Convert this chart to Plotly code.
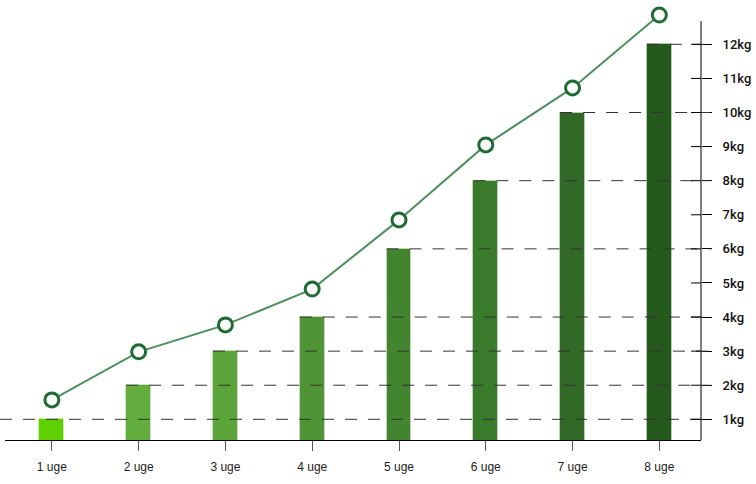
import plotly.graph_objects as go

categories = ["1 uge", "2 uge", "3 uge", "4 uge", "5 uge", "6 uge", "7 uge", "8 uge"]
bar_values = [1, 2, 3, 4, 6, 8, 10, 12]
line_values = [1.57, 2.98, 3.77, 4.82, 6.85, 9.05, 10.72, 12.86]
bar_colors = ["#5fd000", "#62ad3e", "#5aa43a", "#4f9535", "#43852e", "#3a7a2b", "#306a26", "#245a1b"]
tick_vals = list(range(1, 13))
tick_text = [f"{v}kg" for v in tick_vals]

W, H = 756, 484
ML, MR, MT, MB = 5, 53, 10, 44
XMIN, XMAX = -0.54, 7.48
YMIN, YMAX = 0.393, 13.007
AXIS_TOP = 12.68
BW = 0.287

fig = go.Figure()
fig.add_trace(go.Bar(
    x=categories, y=bar_values, width=BW,
    marker=dict(color=bar_colors, line=dict(color="rgba(255,255,255,0.35)", width=1)),
    hoverinfo="skip",
))
fig.add_trace(go.Scatter(
    x=categories, y=line_values, mode="lines+markers",
    line=dict(color="#4f8f5f", width=2),
    marker=dict(size=14, color="white", line=dict(color="#1e6b34", width=3)),
    cliponaxis=False,
))

pw = W - ML - MR
shapes = []
# right axis line
shapes.append(dict(type="line", xref="paper", yref="y", x0=1, x1=1, y0=YMIN, y1=AXIS_TOP,
                   line=dict(color="black", width=1)))
# dashed guide lines from each bar's left edge to the right axis tick end
for i, v in enumerate(bar_values):
    if i == 0:
        x0 = -ML / pw
    else:
        x0 = (i - BW / 2 - XMIN) / (XMAX - XMIN)
    shapes.append(dict(type="line", xref="paper", yref="y", x0=x0, x1=1 + 10 / pw, y0=v, y1=v,
                       line=dict(color="#333333", width=1, dash="12px,11px"), layer="above"))
# inner half of right-axis ticks
for v in tick_vals:
    shapes.append(dict(type="line", xref="paper", yref="y", x0=1 - 10 / pw, x1=1, y0=v, y1=v,
                       line=dict(color="black", width=1)))

fig.update_layout(
    width=W, height=H,
    margin=dict(l=ML, r=MR, t=MT, b=MB),
    paper_bgcolor="white", plot_bgcolor="white",
    showlegend=False,
    shapes=shapes,
    bargap=0,
    xaxis=dict(
        type="category", range=[XMIN, XMAX],
        showline=True, linecolor="black", linewidth=1,
        ticks="outside", ticklen=10, tickcolor="#555555", tickwidth=1,
        showgrid=False, zeroline=False,
        tickfont=dict(family="Liberation Sans, Arial", size=12, color="#222222"),
        ticklabelstandoff=6,
    ),
    yaxis=dict(
        side="right", range=[YMIN, YMAX],
        showline=False,
        ticks="outside", ticklen=10, tickcolor="black", tickwidth=1,
        tickvals=tick_vals, ticktext=tick_text,
        showgrid=False, zeroline=False,
        tickfont=dict(family="Roboto", size=13, color="#111111", weight=500),
        ticklabelstandoff=8,
    ),
)

fig.write_html("out.html", post_script="document.body.style.margin='0px';",
               config={"displayModeBar": False})
